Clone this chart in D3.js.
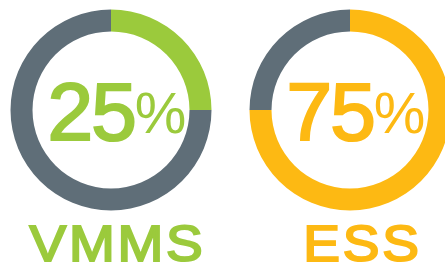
<!DOCTYPE html>
<html lang="en">
<head>
    <meta charset="UTF-8">
    <title>Donuts</title>
    <script src="https://cdn.jsdelivr.net/npm/d3@7"></script>
    <style>
        body { margin: 0; background: #fff; }
        text { font-family: "Liberation Sans", Arial, sans-serif; }
    </style>
</head>
<body>
    <script>
        const width = 445;
        const height = 271;

        // data
        const labels = ['VMMS', 'ESS'];
        const values = [25, 75];
        const colors = ['#9bca3c', '#fdb913'];
        const rest_color = '#5f6e78';

        const outer_r = 100.5;
        const inner_r = 78.5;
        const cy = 110;

        var svg = d3.select('body')
                    .append('svg')
                    .attr('width', width)
                    .attr('height', height);

        var xScale = d3.scalePoint()
                        .domain(labels)
                        .range([111, 350]);

        var pie = d3.pie().sort(null).value(function(d){ return d; });
        var arc = d3.arc().innerRadius(inner_r).outerRadius(outer_r);

        labels.forEach(function(name, i){
            var g = svg.append('g')
                       .attr('transform', 'translate(' + xScale(name) + ',' + cy + ')');

            g.selectAll('path')
                .data(pie([values[i], 100 - values[i]]))
                .enter()
                .append('path')
                .attr('d', arc)
                .attr('fill', function(d, k){ return k == 0 ? colors[i] : rest_color; });

            // big percentage
            var t = g.append('text')
                     .attr('x', 6)
                     .attr('y', 29.5)
                     .attr('text-anchor', 'middle')
                     .attr('fill', colors[i])
                     .style('font-size', '82px')
                     .style('letter-spacing', '-2px');
            t.append('tspan')
                .attr('stroke', colors[i])
                .attr('stroke-width', 2.2)
                .text(values[i]);
            t.append('tspan')
                .attr('dy', -7)
                .style('font-size', '58px')
                .style('letter-spacing', '0px')
                .text('%');

            // label under donut (a little wider than the font)
            var lx = xScale(name) + (i == 0 ? 6.5 : 12.5);
            svg.append('text')
                .attr('transform', 'translate(' + lx + ',260.5) scale(1.1,1)')
                .attr('text-anchor', 'middle')
                .attr('fill', colors[i])
                .attr('stroke', colors[i])
                .attr('stroke-width', 2)
                .style('font-size', '50px')
                .style('letter-spacing', '2.5px')
                .text(name);
        });
    </script>
</body>
</html>
